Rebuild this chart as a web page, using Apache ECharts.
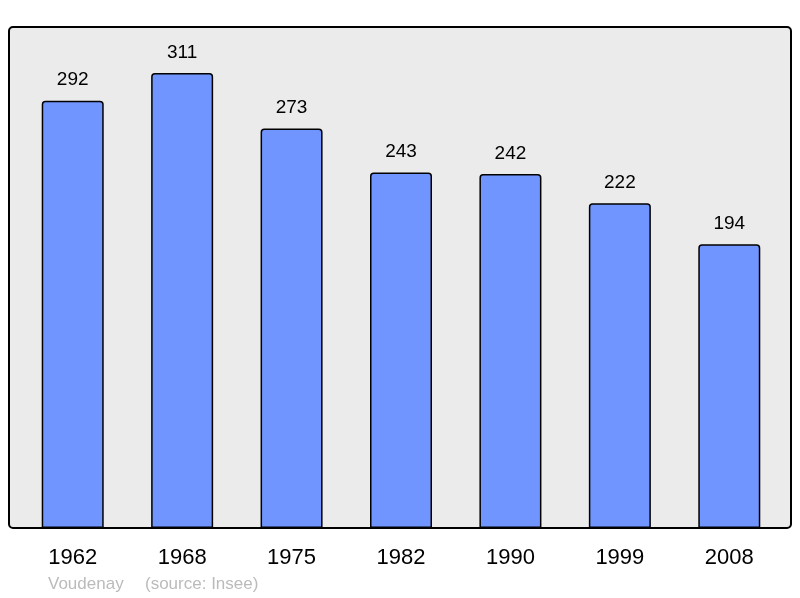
<!DOCTYPE html>
<html><head><meta charset="utf-8">
<script src="https://cdn.jsdelivr.net/npm/echarts@6/dist/echarts.min.js"></script>
<style>html,body{margin:0;padding:0;background:#fff}#c{width:800px;height:598px}</style>
</head><body><div id="c"></div>
<script>
const years = ['1962','1968','1975','1982','1990','1999','2008'];
const population = [292, 311, 273, 243, 242, 222, 194];
const town = 'Voudenay';
const source = '(source: Insee)';

const chart = echarts.init(document.getElementById('c'), null, {renderer:'canvas'});
chart.setOption({
  animation: false,
  backgroundColor: '#ffffff',
  textStyle: {fontFamily: 'Liberation Sans, Arial, sans-serif'},
  graphic: [
    {type:'rect', z:-10, shape:{x:9, y:27, width:782, height:501, r:4},
     style:{fill:'#ebebeb', stroke:'#000', lineWidth:2}},
    {type:'text', left:48, top:576, style:{text:town, fill:'#bbbbbb', font:'17px "Liberation Sans", Arial, sans-serif'}},
    {type:'text', left:145, top:576, style:{text:source, fill:'#bbbbbb', font:'17px "Liberation Sans", Arial, sans-serif'}}
  ],
  grid: {left:18, right:16, top:27, bottom:70},
  xAxis: {
    type:'category', data: years,
    axisLine:{show:false}, axisTick:{show:false},
    axisLabel:{color:'#000', fontSize:22, margin:19, fontFamily:'Liberation Sans, Arial, sans-serif'}
  },
  yAxis: {type:'value', min:0, max:342.4, show:false, splitLine:{show:false}},
  series: [{
    type:'bar', data: population, barWidth:62,
    itemStyle:{color:'#7095ff', borderColor:'#000', borderWidth:1.5, borderRadius:[3,3,0,0]},
    label:{show:true, position:'top', distance:11, color:'#000', fontSize:19, fontFamily:'Liberation Sans, Arial, sans-serif'}
  }]
});
</script></body></html>
